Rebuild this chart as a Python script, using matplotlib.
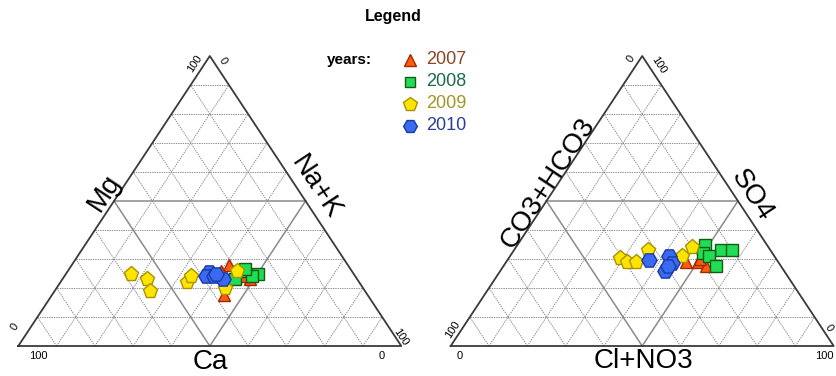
import matplotlib.pyplot as plt

plt.rcParams['font.family'] = ['Liberation Sans', 'DejaVu Sans']

# cations (%): Mg on top corner, Na+K on bottom-right corner, Ca = rest
mg_2007 = [28, 26, 23, 24, 17.5]
nak_2007 = [41, 40, 49, 47, 45]
mg_2008 = [26, 25, 23, 24, 26.5]
nak_2008 = [46, 50, 45, 49, 46]
mg_2009 = [25, 23, 19, 22, 24, 20, 26]
nak_2009 = [17, 22, 25, 33, 33, 44, 44]
mg_2010 = [25.5, 24, 24, 23, 25]
nak_2010 = [37, 37, 39, 42, 39]

# anions (%): SO4 on top corner, Cl+NO3 on bottom-right corner, CO3+HCO3 = rest
so4_2007 = [29, 29, 27.5, 30]
cl_2007 = [47, 50, 53, 50]
so4_2008 = [35, 33, 33, 32, 31, 27.5]
cl_2008 = [49, 54, 57, 50, 52, 55.5]
so4_2009 = [30.5, 29, 29, 33, 31, 34]
cl_2009 = [29, 31.5, 34, 35, 45, 46]
so4_2010 = [29.5, 31, 28.5, 26, 27.5]
cl_2010 = [37, 41.5, 43.5, 43, 43]

years = ['2007', '2008', '2009', '2010']
text_colors = ['#8a4426', '#1d6a48', '#a39626', '#2b3f98']
fill_colors = ['#ff5a10', '#20dd55', '#ffe400', '#3a6af0']
edge_colors = ['#a02a00', '#145c14', '#a89200', '#1a3aa8']
markers = ['^', 's', 'p', 'H']
msizes = [9, 8, 11, 11]

W, H, BASE = 383.0, 290.0, 346.0
LEFT_X0, RIGHT_X0 = 18.3, 450.7


def tern(x0, top, right):
    top = [t / 100.0 for t in top]
    right = [r / 100.0 for r in right]
    xs = [x0 + (r + t / 2.0) * W for t, r in zip(top, right)]
    ys = [BASE - t * H for t in top]
    return xs, ys


def draw_triangle(ax, x0):
    # dashed 10% grid, 50% lines solid
    for k in range(1, 10):
        f = k * 10
        if k == 5:
            style = dict(ls='-', color='#8a8a8a', lw=1.1)
        else:
            style = dict(ls=(0, (1.6, 1.2)), color='#7a7a7a', lw=0.6)
        for tops, rights in [([f, f], [0, 100 - f]),
                             ([0, 100 - f], [f, f]),
                             ([0, 100 - f], [100 - f, 0])]:
            xs, ys = tern(x0, tops, rights)
            ax.plot(xs, ys, zorder=1, **style)
    xs, ys = tern(x0, [0, 0, 100, 0], [0, 100, 0, 0])
    ax.plot(xs, ys, color='#3a3a3a', lw=1.3, zorder=2)


fig = plt.figure(figsize=(8.36, 3.76), dpi=100)
ax = fig.add_axes([0, 0, 1, 1])
ax.set_xlim(0, 836)
ax.set_ylim(376, 0)
ax.axis('off')

draw_triangle(ax, LEFT_X0)
draw_triangle(ax, RIGHT_X0)

cation_data = [(mg_2007, nak_2007), (mg_2008, nak_2008), (mg_2009, nak_2009), (mg_2010, nak_2010)]
anion_data = [(so4_2007, cl_2007), (so4_2008, cl_2008), (so4_2009, cl_2009), (so4_2010, cl_2010)]

for i in range(4):
    for x0, (top, right) in [(LEFT_X0, cation_data[i]), (RIGHT_X0, anion_data[i])]:
        xs, ys = tern(x0, top, right)
        ax.plot(xs, ys, ls='none', marker=markers[i], ms=msizes[i],
                mfc=fill_colors[i], mec=edge_colors[i], mew=1.0, zorder=3 + i)

# side and base labels
slope = 56.6
ax.text(104, 193, 'Mg', fontsize=20, rotation=slope, ha='center', va='center')
ax.text(316, 187, 'Na+K', fontsize=20, rotation=-slope, ha='center', va='center')
ax.text(210, 362, 'Ca', fontsize=20, ha='center', va='center')
ax.text(548, 183, 'CO3+HCO3', fontsize=20, rotation=slope, ha='center', va='center')
ax.text(752, 195, 'SO4', fontsize=20, rotation=-slope, ha='center', va='center')
ax.text(643, 361, 'Cl+NO3', fontsize=20, ha='center', va='center')

# corner tick values
small = dict(fontsize=8, ha='center', va='center')
ax.text(195, 64, '100', rotation=slope, **small)
ax.text(223, 61, '0', rotation=-slope, **small)
ax.text(15, 327, '0', rotation=slope, **small)
ax.text(401, 337, '100', rotation=-slope, **small)
ax.text(38, 356, '100', **small)
ax.text(382, 356, '0', **small)
ax.text(631, 59, '0', rotation=slope, **small)
ax.text(659, 65, '100', rotation=-slope, **small)
ax.text(453, 330, '100', rotation=slope, **small)
ax.text(829, 328, '0', rotation=-slope, **small)
ax.text(460, 356, '0', **small)
ax.text(824, 356, '100', **small)

# legend block
ax.text(393, 17, 'Legend', fontsize=11.5, fontweight='bold', ha='center', va='center')
ax.text(349, 60, 'years:', fontsize=11, fontweight='bold', ha='center', va='center')
for i, yr in enumerate(years):
    y = 60 + i * 22
    ax.plot([410], [y], ls='none', marker=markers[i], ms=msizes[i] * 0.9,
            mfc=fill_colors[i], mec=edge_colors[i], mew=1.0)
    ax.text(426, y, yr, fontsize=13, color=text_colors[i], ha='left', va='center')

fig.savefig('out.png', dpi=100)
